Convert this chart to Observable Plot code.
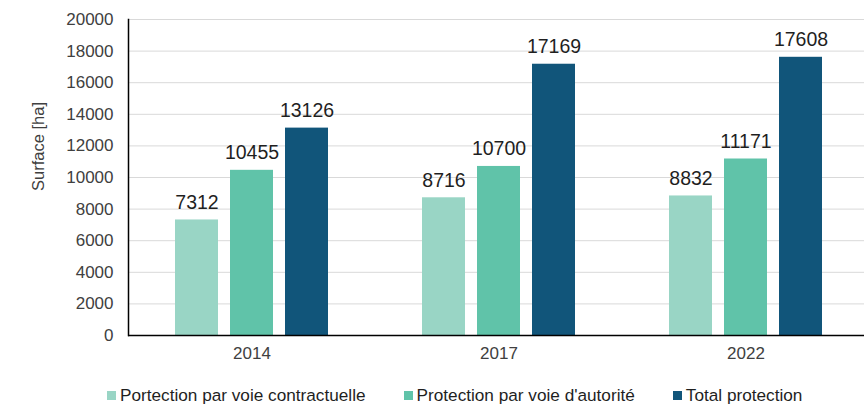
<!DOCTYPE html>
<html><head><meta charset="utf-8">
<script src="https://cdn.jsdelivr.net/npm/d3@7"></script>
<script src="https://cdn.jsdelivr.net/npm/@observablehq/plot@0.6"></script>
<style>
body{margin:0;background:#fff;font-family:"Liberation Sans",Arial,sans-serif;width:864px;overflow:hidden}
#legend{display:flex;align-items:center;height:18px;padding-top:16px;padding-left:107px;font-size:17.2px;color:#1f1f1f;white-space:nowrap}
#legend .item{display:flex;align-items:center;margin-right:38px}
#legend .sw{width:9px;height:9px;margin-right:4px}
</style>
</head><body><div id="chart"></div><div id="legend"></div>
<script>
const years = ["2014", "2017", "2022"];
const series = ["Portection par voie contractuelle", "Protection par voie d'autorité", "Total protection"];
const contractuelle = [7312, 8716, 8832];
const autorite = [10455, 10700, 11171];
const total = [13126, 17169, 17608];
const colors = ["#99d5c5", "#60c3a9", "#11557a"];
const yTicks = d3.range(0, 20001, 2000);

const values = [contractuelle, autorite, total];
const data = years.flatMap((year, i) => series.map((s, j) => ({year, series: s, value: values[j][i]})));

const chart = Plot.plot({
  width: 864, height: 370,
  marginLeft: 128, marginRight: -5, marginTop: 19, marginBottom: 35,
  style: {fontFamily: "Liberation Sans, Arial, sans-serif", fontSize: "17px", color: "#404040", background: "#fff", overflow: "hidden"},
  fx: {domain: years, padding: 0, label: null, axis: "bottom", tickSize: 0, tickPadding: 11},
  x: {domain: series, paddingInner: 0.22, paddingOuter: 0.84, axis: null},
  y: {domain: [0, 20000], axis: null},
  color: {domain: series, range: colors},
  marks: [
    Plot.ruleY(yTicks.slice(1), {y: d => d, stroke: "#d9d9d9", strokeWidth: 1}),
    Plot.barY(data, {fx: "year", x: "series", y: "value", fill: "series"}),
    Plot.text(data, {fx: "year", x: "series", y: "value", text: d => String(d.value), dy: -11, lineAnchor: "bottom", fontSize: 19.5, fill: "#1f1f1f"}),
    Plot.axisY({ticks: yTicks, tickSize: 0, tickPadding: 15, tickFormat: d => String(d), fontSize: 17, fill: "#404040", label: null}),
    Plot.ruleY([0], {y: d => d, stroke: "#000", strokeWidth: 1.5}),
    Plot.frame({anchor: "left", stroke: "#000", strokeWidth: 1.5, facetAnchor: "left"}),
    Plot.text(["Surface [ha]"], {fx: () => years[0], text: d => d, frameAnchor: "left", textAnchor: "middle", dx: -90, dy: -31, rotate: -90, fontSize: 16.5, fill: "#404040"})
  ]
});
document.getElementById("chart").appendChild(chart);

const legend = d3.select("#legend");
series.forEach((s, i) => {
  const it = legend.append("div").attr("class", "item");
  it.append("div").attr("class", "sw").style("background", colors[i]);
  it.append("span").text(s);
});
</script>
</body></html>
